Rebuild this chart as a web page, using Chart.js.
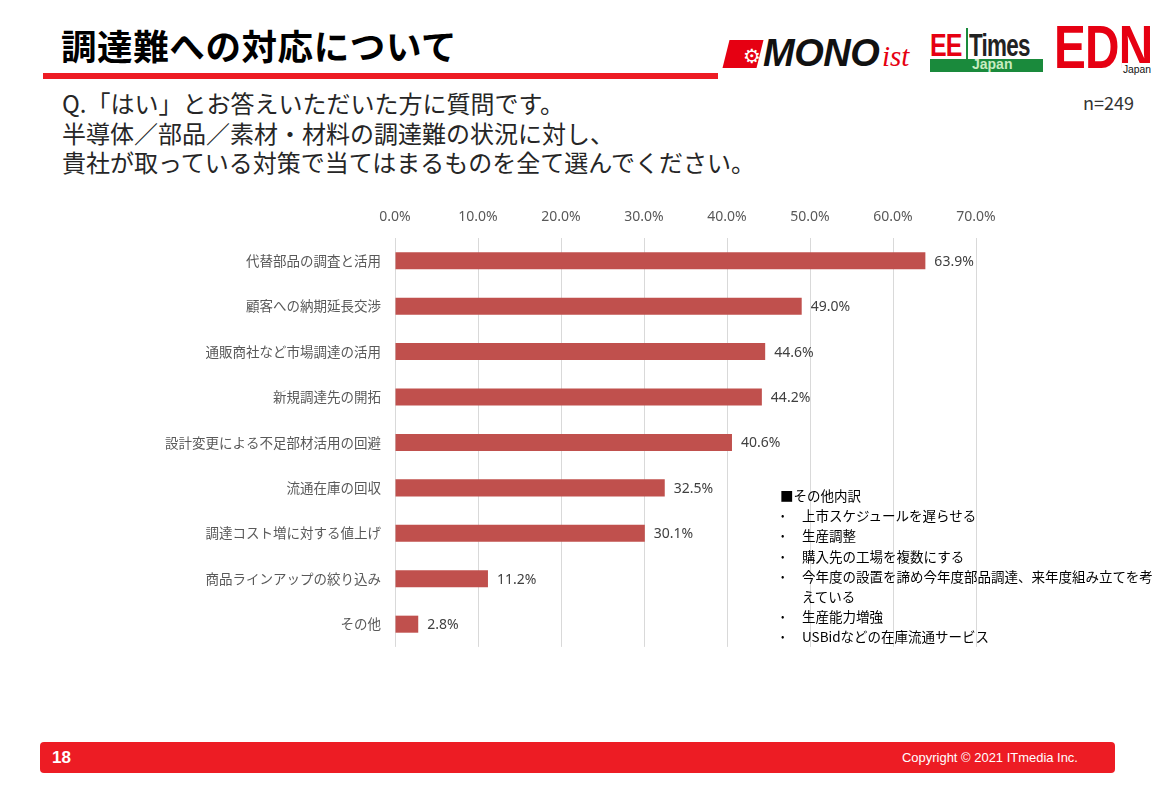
<!DOCTYPE html>
<html>
<head>
<meta charset="utf-8">
<script src="https://cdn.jsdelivr.net/npm/chart.js@4.4.1/dist/chart.umd.min.js"></script>
<style>
  body { margin: 0; width: 1169px; height: 789px; background: #fff; position: relative; overflow: hidden;
         font-family: "Noto Sans CJK JP", "Noto Sans", sans-serif; }
  .abs { position: absolute; white-space: nowrap; }
  #title { left: 61px; top: 23px; font-size: 35.5px; font-weight: bold; color: #000; line-height: 44px; letter-spacing: 0.6px; }
  #titleLine { left: 43px; top: 73px; width: 675px; height: 6px; background: #ed1c24; }
  #question { left: 62px; top: 88px; font-size: 24px; line-height: 29.5px; color: #262626; }
  #n { left: 1083px; top: 89px; font-size: 18px; color: #333; }
  #chartWrap { left: 0; top: 195px; }
  #note { left: 780px; top: 485px; font-size: 13.5px; line-height: 20.2px; color: #000; }
  #note ul { margin: 0; padding: 0; list-style: none; }
  #note li { position: relative; padding-left: 22px; width: 362px; white-space: normal; }
  #note li::before { content: "•"; position: absolute; left: 1px; font-size: 10px; }
  #footer { left: 40px; top: 742px; width: 1075px; height: 31px; background: #ed1c24; border-radius: 4px; }
  #page { left: 52px; top: 748px; font-family: "Liberation Sans", Arial, sans-serif; font-weight: bold; font-size: 17px; color: #fff; }
  #copy { left: 902px; top: 750px; font-family: "Liberation Sans", sans-serif; font-size: 13.5px; color: #fff; transform: scaleX(0.96); transform-origin: left top; }
  /* logos */
  #monoBox { left: 726px; top: 40px; width: 34px; height: 28px; background: #e60012; transform: skewX(-14deg); }
  #monoGear { left: 743px; top: 44px; font-size: 20px; color: #fff; font-family: "DejaVu Sans"; }
  #mono { left: 763px; top: 32px; font-family: "Liberation Sans", Arial, sans-serif; font-weight: bold; font-style: italic; font-size: 38px; color: #111; letter-spacing: -0.5px; }
  #ist { left: 882px; top: 40px; font-family: "Liberation Serif", serif; font-style: italic; font-size: 29px; color: #e60012; }
  #ee { left: 930px; top: 27px; font-family: "Liberation Sans", sans-serif; font-weight: bold; font-size: 32px; color: #e60012; transform: scaleX(0.78); transform-origin: left top; letter-spacing: -1px; }
  #eeSep { left: 966px; top: 28px; width: 2px; height: 31px; background: #1a8a3c; }
  #times { left: 969px; top: 27px; font-family: "Liberation Sans", sans-serif; font-weight: bold; font-size: 32px; color: #222; transform: scaleX(0.7); transform-origin: left top; letter-spacing: -1px; }
  #eeBar { left: 930px; top: 59px; width: 113px; height: 13px; background: #1a8a3c; }
  #eeJapan { left: 972px; top: 56px; font-family: "Liberation Sans", sans-serif; font-weight: bold; font-size: 14px; color: #c8ecc0; }
  #edn { left: 1054px; top: 11px; font-family: "Liberation Sans", sans-serif; font-weight: bold; font-size: 62px; color: #e60012; letter-spacing: -1px; transform: scaleX(0.77); transform-origin: left top; }
  #ednJapan { left: 1122px; top: 63px; font-family: "Liberation Sans", sans-serif; font-size: 11.5px; color: #111; background: #fff; padding: 0 1px; line-height: 12px; transform: scaleX(0.9); transform-origin: left top; }
</style>
</head>
<body>
<div class="abs" id="title">調達難への対応について</div>
<div class="abs" id="titleLine"></div>

<div class="abs" id="monoBox"></div>
<div class="abs" id="monoGear">⚙</div>
<div class="abs" id="mono">MONO</div>
<div class="abs" id="ist">ist</div>
<div class="abs" id="ee">EE</div>
<div class="abs" id="eeSep"></div>
<div class="abs" id="times">Times</div>
<div class="abs" id="eeBar"></div>
<div class="abs" id="eeJapan">Japan</div>
<div class="abs" id="edn">EDN</div>
<div class="abs" id="ednJapan">Japan</div>

<div class="abs" id="question">Q.「はい」とお答えいただいた方に質問です。<br>半導体／部品／素材・材料の調達難の状況に対し、<br>貴社が取っている対策で当てはまるものを全て選んでください。</div>
<div class="abs" id="n">n=249</div>

<div class="abs" id="chartWrap"><canvas id="chart" width="1010" height="474"></canvas></div>

<div class="abs" id="note">■その他内訳
  <ul>
    <li>上市スケジュールを遅らせる</li>
    <li>生産調整</li>
    <li>購入先の工場を複数にする</li>
    <li>今年度の設置を諦め今年度部品調達、来年度組み立てを考えている</li>
    <li>生産能力増強</li>
    <li>USBidなどの在庫流通サービス</li>
  </ul>
</div>

<div class="abs" id="footer"></div>
<div class="abs" id="page">18</div>
<div class="abs" id="copy">Copyright © 2021 ITmedia Inc.</div>

<script>
// DATA
const categories = [
  '代替部品の調査と活用',
  '顧客への納期延長交渉',
  '通販商社など市場調達の活用',
  '新規調達先の開拓',
  '設計変更による不足部材活用の回避',
  '流通在庫の回収',
  '調達コスト増に対する値上げ',
  '商品ラインアップの絞り込み',
  'その他'
];
const shares = [63.9, 49.0, 44.6, 44.2, 40.6, 32.5, 30.1, 11.2, 2.8];
const tickValues = [0, 10, 20, 30, 40, 50, 60, 70];

// VALUE LABELS AFTER EACH BAR
const valueLabels = {
  id: 'valueLabels',
  afterDatasetsDraw(chart) {
    const ctx = chart.ctx;
    const meta = chart.getDatasetMeta(0);
    ctx.save();
    ctx.font = '14px "Noto Sans", "Noto Sans CJK JP", sans-serif';
    ctx.fillStyle = '#404040';
    ctx.textAlign = 'left';
    ctx.textBaseline = 'middle';
    meta.data.forEach((bar, i) => {
      ctx.fillText(shares[i].toFixed(1) + '%', bar.x + 9, bar.y + 1);
    });
    ctx.restore();
  }
};

const chart = new Chart(document.getElementById('chart'), {
  type: 'bar',
  data: {
    labels: categories,
    datasets: [{
      data: shares,
      backgroundColor: '#c0504d',
      borderWidth: 0,
      categoryPercentage: 1,
      barPercentage: 0.375
    }]
  },
  plugins: [valueLabels],
  options: {
    indexAxis: 'y',
    responsive: false,
    animation: false,
    layout: { padding: { right: 34, bottom: 8 } },
    plugins: { legend: { display: false }, tooltip: { enabled: false } },
    scales: {
      x: {
        position: 'top',
        min: 0,
        max: 70,
        afterBuildTicks: (scale) => { scale.ticks = tickValues.map(v => ({ value: v })); },
        afterFit: (scale) => { scale.height = 43; },
        ticks: {
          padding: 13,
          color: '#595959',
          font: { size: 14, family: '"Noto Sans", "Noto Sans CJK JP", sans-serif' },
          callback: (v) => v.toFixed(1) + '%'
        },
        grid: { color: '#d9d9d9', drawTicks: false },
        border: { display: false }
      },
      y: {
        afterFit: (scale) => { scale.width = 395; },
        ticks: {
          padding: 14,
          color: '#595959',
          font: { size: 13.5, family: '"Noto Sans CJK JP", sans-serif' }
        },
        grid: { display: false, drawTicks: false },
        border: { display: false }
      }
    }
  }
});
</script>
</body>
</html>
